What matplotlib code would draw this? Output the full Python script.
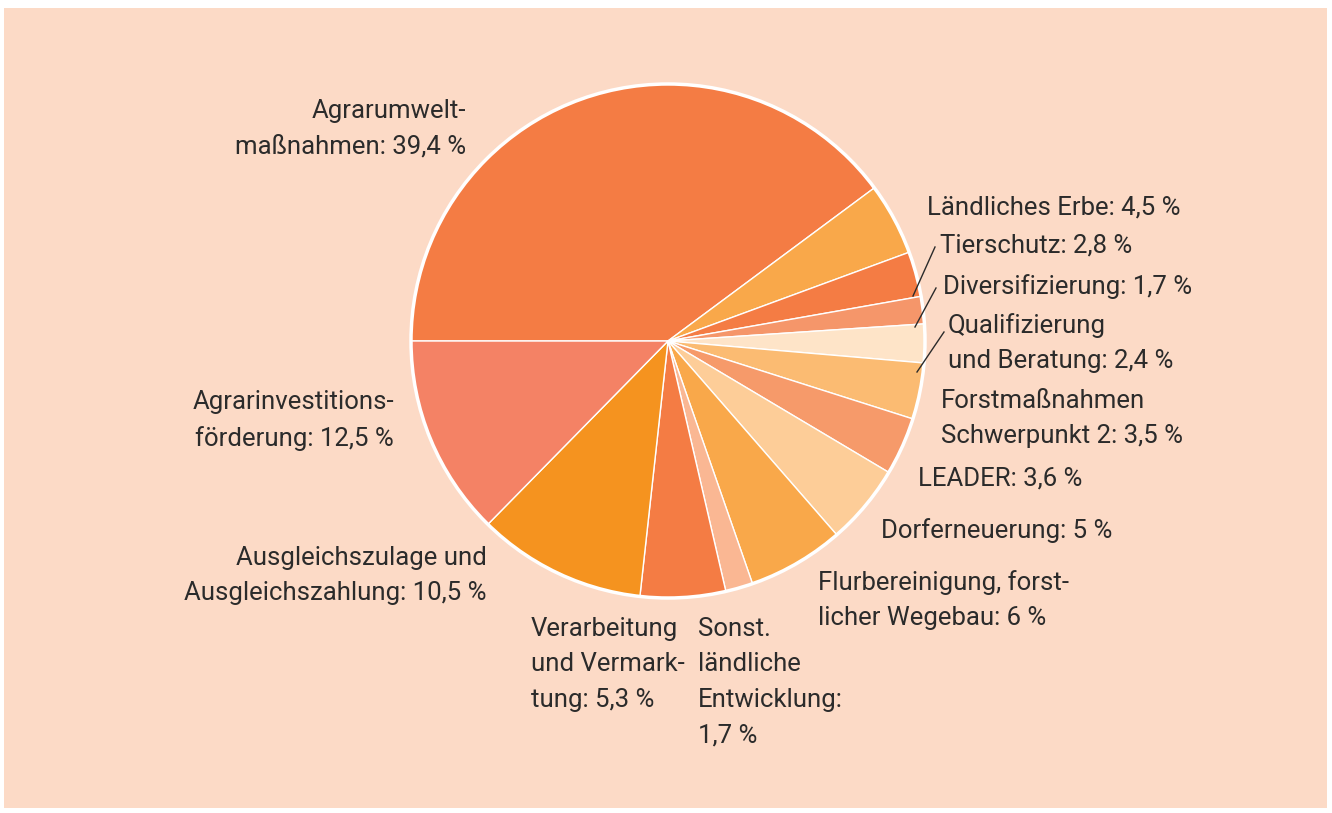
import matplotlib
matplotlib.use("Agg")
import matplotlib.pyplot as plt
from matplotlib.patches import Rectangle, Circle

# shares in percent, clockwise from the left horizontal
categories = ["Agrarumweltmaßnahmen", "Ländliches Erbe", "Tierschutz", "Diversifizierung",
              "Qualifizierung und Beratung", "Forstmaßnahmen Schwerpunkt 2", "LEADER",
              "Dorferneuerung", "Flurbereinigung, forstlicher Wegebau",
              "Sonst. ländliche Entwicklung", "Verarbeitung und Vermarktung",
              "Ausgleichszulage und Ausgleichszahlung", "Agrarinvestitionsförderung"]
values = [39.4, 4.5, 2.8, 1.7, 2.4, 3.5, 3.6, 5.0, 6.0, 1.7, 5.3, 10.5, 12.5]
label_texts = ["Agrarumwelt-\nmaßnahmen: 39,4 %", "Ländliches Erbe: 4,5 %", "Tierschutz: 2,8 %",
               "Diversifizierung: 1,7 %", "Qualifizierung\nund Beratung: 2,4 %",
               "Forstmaßnahmen\nSchwerpunkt 2: 3,5 %", "LEADER: 3,6 %", "Dorferneuerung: 5 %",
               "Flurbereinigung, forst-\nlicher Wegebau: 6 %",
               "Sonst.\nländliche\nEntwicklung:\n1,7 %", "Verarbeitung\nund Vermark-\ntung: 5,3 %",
               "Ausgleichszulage und\nAusgleichszahlung: 10,5 %",
               "Agrarinvestitions-\nförderung: 12,5 %"]
colors = ["#F47C44", "#F9A84A", "#F47C44", "#F5966A", "#FEE4C8", "#FBBB72", "#F69A6A",
          "#FDCD98", "#F9A84A", "#FAB793", "#F47C44", "#F5931F", "#F48265"]

W, H = 1332, 813
# label layout in pixel coords (x, top y, alignment)
label_pos = [(466, 99, "right"), (927, 195, "left"), (940, 233, "left"), (943, 274, "left"),
             (948, 313, "left"), (941, 389, "left"), (918, 466, "left"), (881, 518, "left"),
             (818, 570, "left"), (698, 617, "left"), (531, 617, "left"), (487, 546, "right"),
             (394, 390, "right")]
# leader lines (pixel coords): wedge point -> label
leaders = {2: ((913, 296), (935, 247)), 3: ((915, 327), (936, 288)),
           4: ((917, 372), (944, 332))}

plt.rcParams['font.family'] = ['Roboto', 'DejaVu Sans']

fig = plt.figure(figsize=(W / 100, H / 100), dpi=100)
fig.patch.set_facecolor("white")
ax = fig.add_axes([0, 0, 1, 1])
ax.add_patch(Rectangle((4, H - 808), 1323, 800, facecolor="#FCDAC6", edgecolor="none", zorder=0))

cx, cy, r = 668, H - 341, 257
ax.pie(values, colors=colors, startangle=180, counterclock=False, center=(cx, cy), radius=r,
       wedgeprops=dict(edgecolor="white", linewidth=1.0), frame=True)
ax.add_patch(Circle((cx, cy), r, fill=False, edgecolor="white", linewidth=2.5, zorder=5))

for txt, (x, y, ha) in zip(label_texts, label_pos):
    ax.text(x, H - y, txt, ha=ha, va="top", fontsize=18.5, color="#2b2b2b",
            linespacing=1.6, multialignment=ha)

for i, (p0, p1) in leaders.items():
    ax.plot([p0[0], p1[0]], [H - p0[1], H - p1[1]], color="#2b2b2b", linewidth=1.0, zorder=6)

ax.set_xlim(0, W)
ax.set_ylim(0, H)
ax.set_aspect("equal")
ax.axis("off")
fig.savefig("out.png", dpi=100, facecolor=fig.get_facecolor())
